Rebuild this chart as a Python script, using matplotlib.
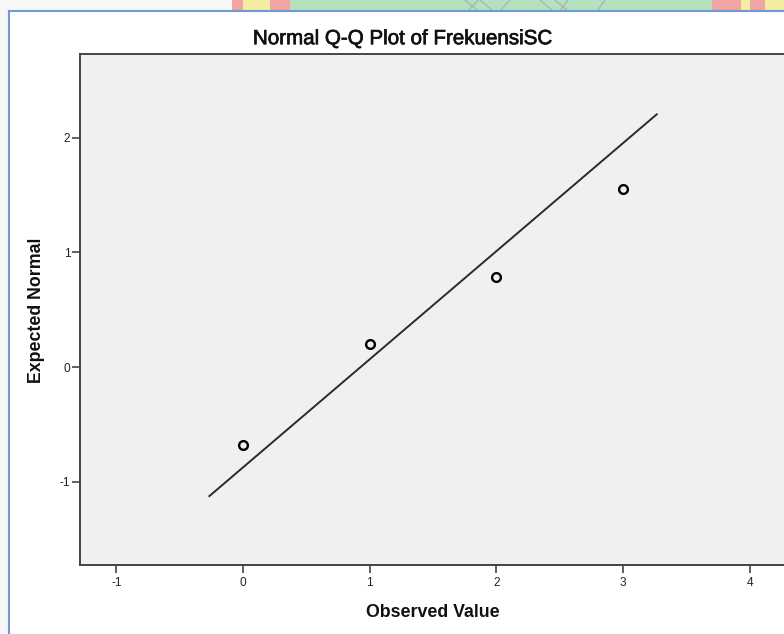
import matplotlib
matplotlib.use("Agg")
import matplotlib.pyplot as plt
import matplotlib.patheffects as pe
from matplotlib.patches import Rectangle
from matplotlib.lines import Line2D

# Data
observed = [0, 1, 2, 3]
expected = [-0.676, 0.206, 0.786, 1.552]
line_x = [-0.266, 3.265]
line_y = [-1.123, 2.202]
xticks = [-1, 0, 1, 2, 3, 4]
yticks = [-1, 0, 1, 2]
title = "Normal Q-Q Plot of FrekuensiSC"
xlabel = "Observed Value"
ylabel = "Expected Normal"

W, H = 784, 634
fig = plt.figure(figsize=(W / 100, H / 100), dpi=100)
fig.patch.set_facecolor("white")

def fx(px):
    return px / W

def fy(py):
    return 1 - py / H

# screenshot surroundings: watermark strip and blue frame
fig.patches.append(Rectangle((0, fy(11)), 1, 11 / H, transform=fig.transFigure,
                             facecolor="#f7f7f7", edgecolor="none", zorder=0))
for x0, x1, c in [(232, 292, "#f2a3a3"), (243, 270, "#f3eda0"), (290, 712, "#b4e2bf"),
                  (712, 741, "#f2a3a3"), (741, 750, "#f3eda0"), (750, 765, "#f2a3a3"),
                  (765, 784, "#f3eda0")]:
    fig.patches.append(Rectangle((fx(x0), fy(11)), (x1 - x0) / W, 11 / H,
                                 transform=fig.transFigure, facecolor=c,
                                 edgecolor="none", zorder=1))
# faint V shapes of the watermark
for xa, xb in [(465, 478), (480, 493), (540, 553), (555, 568)]:
    fig.lines.append(Line2D([fx(xa), fx(xb)], [fy(0), fy(11)],
                            transform=fig.transFigure, color="#a9b8ad", lw=1.0, zorder=2))
for xa, xb in [(478, 468), (510, 500), (568, 560), (605, 597)]:
    fig.lines.append(Line2D([fx(xa), fx(xb)], [fy(0), fy(11)],
                            transform=fig.transFigure, color="#a9b8ad", lw=1.0, zorder=2))
fig.patches.append(Rectangle((0, 0), fx(9), fy(11), transform=fig.transFigure,
                             facecolor="#f7f7f7", edgecolor="none", zorder=1))
fig.lines.append(Line2D([fx(9), fx(9)], [0, fy(11)], transform=fig.transFigure,
                        color="#6f9ad3", lw=1.5, zorder=3))
fig.lines.append(Line2D([fx(9), 1], [fy(11), fy(11)], transform=fig.transFigure,
                        color="#6f9ad3", lw=1.5, zorder=3))

# axes
left, right, top, bottom = 80, 784, 54, 565
ax = fig.add_axes([fx(left), fy(bottom), (right - left) / W, (bottom - top) / H])
ax.set_facecolor("#f0f0f0")

ax.plot(line_x, line_y, color="#2a2a2a", lw=1.4, zorder=2)
ax.plot(observed, expected, linestyle="none", marker="o", markersize=6.3,
        markerfacecolor="none", markeredgecolor="black", markeredgewidth=1.7, zorder=3)

ax.set_xlim(-1.287, 4.27)
ax.set_ylim(-1.723, 2.728)
ax.set_xticks(xticks)
ax.set_yticks(yticks)
ax.set_xticklabels([str(t) for t in xticks])
ax.set_yticklabels([str(t) for t in yticks])

for s in ["left", "bottom", "top"]:
    ax.spines[s].set_color("#444444")
    ax.spines[s].set_linewidth(1.4)
ax.spines["right"].set_visible(False)

ax.tick_params(axis="both", direction="out", length=5.5, width=1.2, color="#444444",
               labelsize=8.6, labelcolor="#222222")
ax.tick_params(axis="x", pad=3)
ax.tick_params(axis="y", pad=1.5)
for lab in ax.get_xticklabels() + ax.get_yticklabels():
    lab.set_fontfamily(["Liberation Sans", "DejaVu Sans"])

fig.text(fx(402), fy(38.7), title, ha="center", va="center", fontsize=14.8,
         family=["Liberation Sans", "DejaVu Sans"], color="#111111",
         path_effects=[pe.withStroke(linewidth=0.5, foreground="#111111")])
fig.text(fx(433), fy(612.5), xlabel, ha="center", va="center", fontsize=12.8,
         fontweight="bold", family=["Liberation Sans", "DejaVu Sans"], color="#111111")
fig.text(fx(37), fy(310), ylabel, ha="center", va="center", rotation=90, fontsize=12.8,
         fontweight="bold", family=["Liberation Sans", "DejaVu Sans"], color="#111111")

fig.savefig("out.png", dpi=100)
